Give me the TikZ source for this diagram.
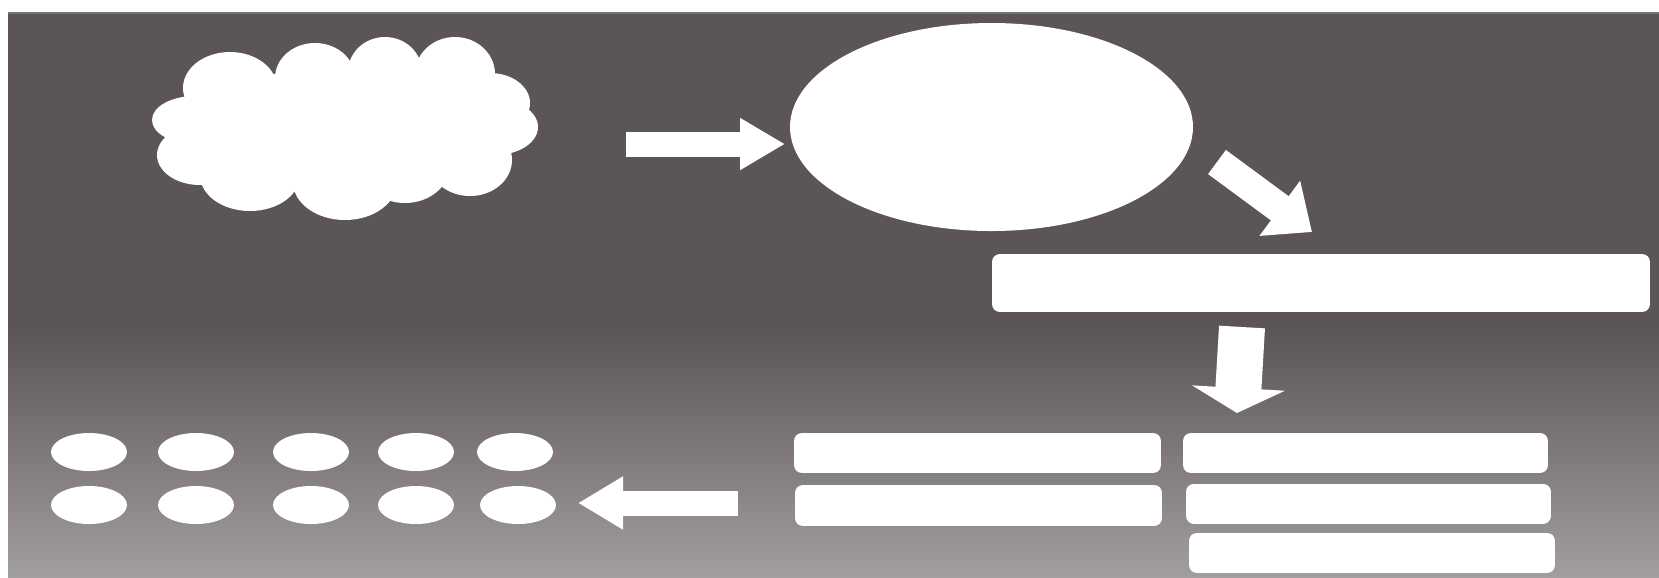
\documentclass[tikz,border=0pt]{standalone}
\usetikzlibrary{shapes.geometric,arrows.meta}
\definecolor{bgT}{RGB}{92,85,88}
\definecolor{bgB}{RGB}{162,157,159}
\begin{document}
\begin{tikzpicture}[x=0.3pt,y=0.3pt,
  blob/.style={fill=white,draw=none,inner sep=0pt,outer sep=0pt},
  bar/.style={fill=white,draw=white,line width=4.8pt,line join=round,rectangle,inner sep=0pt,outer sep=0pt},
  dot/.style={blob,ellipse,minimum width=22.8pt,minimum height=11.4pt},
  fatarrow/.style={draw=white,line cap=butt},
]
\useasboundingbox (0,0) rectangle (1659,-577);
\fill[white] (0,0) rectangle (1659,-577);
\fill[bgT] (8,-13) rectangle (1659,-331);
\shade[top color=bgT,bottom color=bgB] (8,-330) rectangle (1659,-577);
\draw[black!55,line width=0.4pt] (8,-13) -- (1659,-13);

% cloud (union of puffs)
\node[inner sep=0pt,minimum width=115.8pt,minimum height=56.1pt] (cloud) at (344,-128) {};
\fill[white]
  (340,-128) ellipse [x radius=150, y radius=60]
  (230,-88)  ellipse [x radius=47, y radius=36]
  (315,-78)  ellipse [x radius=40, y radius=35]
  (385,-72)  ellipse [x radius=37, y radius=35]
  (455,-74)  ellipse [x radius=40, y radius=37]
  (490,-103) ellipse [x radius=40, y radius=30]
  (495,-127) ellipse [x radius=43, y radius=28]
  (470,-160) ellipse [x radius=42, y radius=36]
  (405,-165) ellipse [x radius=45, y radius=38]
  (345,-182) ellipse [x radius=52, y radius=38]
  (250,-175) ellipse [x radius=50, y radius=36]
  (200,-155) ellipse [x radius=43, y radius=30]
  (195,-120) ellipse [x radius=43, y radius=24];

% big ellipse
\node[blob,ellipse,minimum width=120.9pt,minimum height=62.4pt] (ell) at (991.5,-127) {};

% wide bar (sizes reduced by the rounding line width)
\node[bar,minimum width=192.6pt,minimum height=12.6pt] (wide) at (1321,-283) {};

% lower bars
\node[bar,minimum width=105.3pt,minimum height=7.2pt] (l1) at (977.5,-453) {};
\node[bar,minimum width=105.3pt,minimum height=7.5pt] (l2) at (978.5,-505.5) {};
\node[bar,minimum width=104.7pt,minimum height=7.2pt] (r1) at (1365.5,-453) {};
\node[bar,minimum width=104.7pt,minimum height=7.2pt] (r2) at (1368.5,-503.5) {};
\node[bar,minimum width=105pt,minimum height=7.2pt] (r3) at (1372,-553) {};

% small ellipses
\node[dot] (e11) at (89,-452) {};
\node[dot] (e12) at (196,-452) {};
\node[dot] (e13) at (311,-452) {};
\node[dot] (e14) at (416,-452) {};
\node[dot] (e15) at (515,-452) {};
\node[dot] (e21) at (89,-505) {};
\node[dot] (e22) at (196,-505) {};
\node[dot] (e23) at (311,-505) {};
\node[dot] (e24) at (416,-505) {};
\node[dot] (e25) at (518,-505) {};

% arrow end points
\coordinate (a1s) at (626,-144);
\coordinate (a1e) at (785,-144);
\coordinate (a2s) at (1217,-162);
\coordinate (a2e) at (1312,-232);
\coordinate (a3s) at (1242,-327);
\coordinate (a3e) at (1237,-413);
\coordinate (a4s) at (738,-503);
\coordinate (a4e) at (578,-503);

\draw[fatarrow,line width=7.5pt,-{Triangle[length=13.5pt,width=14.7pt,fill=white]}] (a1s) -- (a1e);
\draw[fatarrow,line width=9pt,-{Triangle[length=12pt,width=19.8pt,fill=white]}] (a2s) -- (a2e);
\draw[fatarrow,line width=13.8pt,-{Triangle[length=7.5pt,width=27.6pt,fill=white]}] (a3s) -- (a3e);
\draw[fatarrow,line width=7.5pt,-{Triangle[length=13.5pt,width=15pt,fill=white]}] (a4s) -- (a4e);
\end{tikzpicture}
\end{document}
